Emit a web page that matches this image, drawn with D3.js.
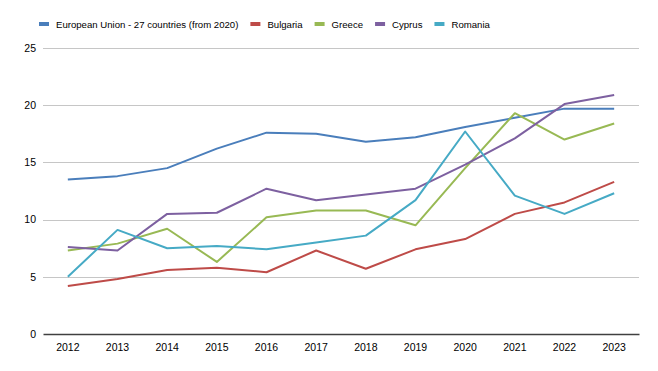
<!DOCTYPE html>
<html>
<head>
<meta charset="utf-8">
<script src="https://cdn.jsdelivr.net/npm/d3@7"></script>
<style>
  body { margin: 0; background: #fff; }
  text { font-family: "Liberation Sans", Arial, sans-serif; fill: #000; }
</style>
</head>
<body>
<script>
// chart data
var years = ["2012","2013","2014","2015","2016","2017","2018","2019","2020","2021","2022","2023"];
var seriesNames = ["European Union - 27 countries (from 2020)", "Bulgaria", "Greece", "Cyprus", "Romania"];
var euValues = [13.5, 13.8, 14.5, 16.2, 17.6, 17.5, 16.8, 17.2, 18.1, 18.9, 19.7, 19.7];
var bulgariaValues = [4.2, 4.8, 5.6, 5.8, 5.4, 7.3, 5.7, 7.4, 8.3, 10.5, 11.5, 13.3];
var greeceValues = [7.3, 7.9, 9.2, 6.3, 10.2, 10.8, 10.8, 9.5, 14.5, 19.3, 17.0, 18.4];
var cyprusValues = [7.6, 7.3, 10.5, 10.6, 12.7, 11.7, 12.2, 12.7, 14.8, 17.1, 20.1, 20.9];
var romaniaValues = [5.0, 9.1, 7.5, 7.7, 7.4, 8.0, 8.6, 11.7, 17.7, 12.1, 10.5, 12.3];
var yTicks = [0, 5, 10, 15, 20, 25];

var colors = ["#4a7ebb", "#be4b48", "#98b954", "#7d60a0", "#46aac5"];
var allValues = [euValues, bulgariaValues, greeceValues, cyprusValues, romaniaValues];

var svgWidth = 658, svgHeight = 371;
var margin = {top: 48, right: 19, bottom: 37, left: 43};
var chartWidth = svgWidth - margin.left - margin.right;
var chartHeight = svgHeight - margin.top - margin.bottom;

var svg = d3.select("body").append("svg")
  .attr("width", svgWidth)
  .attr("height", svgHeight);

var chartGroup = svg.append("g")
  .attr("transform", `translate(${margin.left}, ${margin.top})`);

var xScale = d3.scaleBand().domain(years).range([0, chartWidth]);
var yScale = d3.scaleLinear().domain([0, 25]).range([chartHeight, 0]);

// gridlines
chartGroup.selectAll(".grid").data(yTicks.filter(d => d > 0)).enter()
  .append("line")
  .attr("x1", 0).attr("x2", chartWidth)
  .attr("y1", d => Math.round(yScale(d)) + 0.5)
  .attr("y2", d => Math.round(yScale(d)) + 0.5)
  .attr("stroke", "#c6c6c6").attr("stroke-width", 1);

// y axis labels
var yAxis = d3.axisLeft(yScale).tickValues(yTicks).tickSize(0).tickPadding(7);
chartGroup.append("g").call(yAxis)
  .call(g => g.select(".domain").remove())
  .selectAll("text").style("font-size", "10.5px").attr("fill", "#000");

// x axis
var xAxis = d3.axisBottom(xScale).tickSize(0).tickPadding(10);
chartGroup.append("g")
  .attr("transform", `translate(0, ${chartHeight})`)
  .call(xAxis)
  .call(g => g.select(".domain").attr("stroke", "#404040").attr("stroke-width", 1.3))
  .selectAll("text").style("font-size", "10.5px").attr("fill", "#000");

// lines
var drawLine = d3.line()
  .x((d, i) => xScale(years[i]) + xScale.bandwidth() / 2)
  .y(d => yScale(d));

allValues.forEach(function(vals, i) {
  chartGroup.append("path")
    .attr("d", drawLine(vals))
    .attr("fill", "none")
    .attr("stroke", colors[i])
    .attr("stroke-width", 2)
    .attr("stroke-linejoin", "round");
});

// legend
var legend = svg.append("g").attr("transform", "translate(39, 24)");
var lx = 0;
seriesNames.forEach(function(name, i) {
  var item = legend.append("g").attr("transform", `translate(${lx}, 0)`);
  item.append("rect")
    .attr("x", 0).attr("y", -2).attr("width", 10).attr("height", 4)
    .attr("fill", colors[i]);
  var t = item.append("text")
    .attr("x", 17).attr("y", 4)
    .style("font-size", "9.6px")
    .text(name);
  lx += 17 + t.node().getComputedTextLength() + 12;
});
</script>
</body>
</html>
